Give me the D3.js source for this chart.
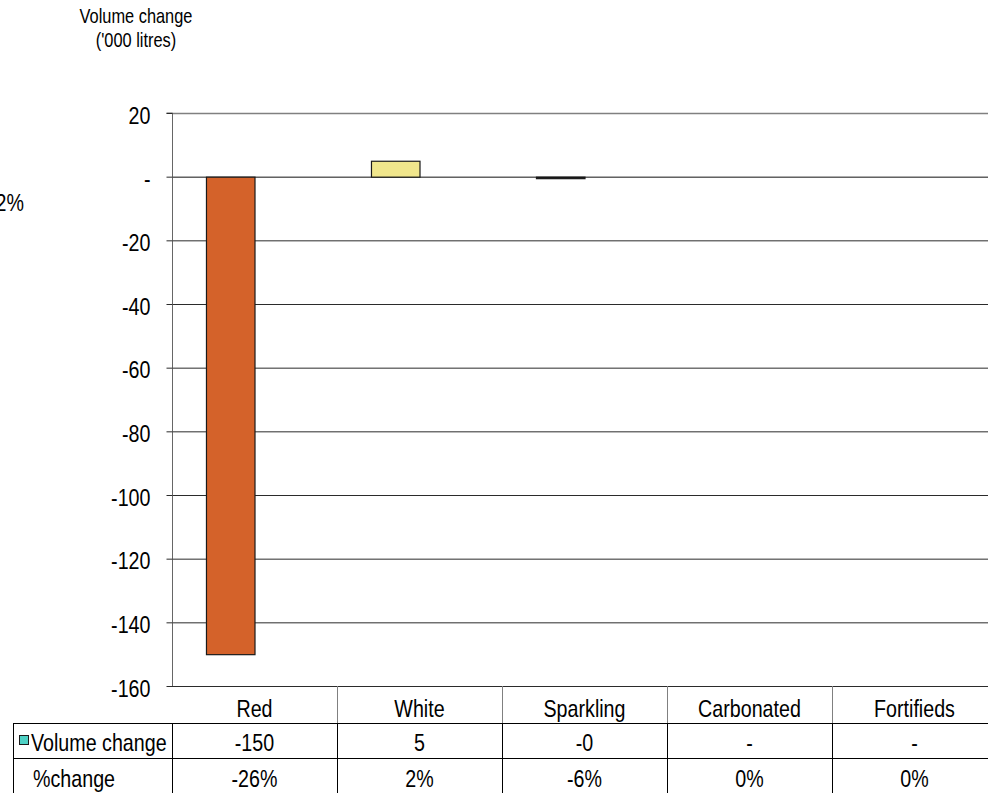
<!DOCTYPE html>
<html><head><meta charset="utf-8">
<script src="https://cdn.jsdelivr.net/npm/d3@7"></script>
<style>body{margin:0;background:#fff;}svg{display:block;font-family:"Liberation Sans",Arial,sans-serif;}</style>
</head><body>
<script>
const categories = ["Red","White","Sparkling","Carbonated","Fortifieds"];
const volumeChange = [-150, 5, -0.4, 0, 0];
const volumeLabels = ["-150","5","-0","-","-"];
const pctLabels = ["-26%","2%","-6%","0%","0%"];
const barColors = ["#D4622A","#F0E68C","#000000","#4FD1C5","#4FD1C5"];
const yTicks = [20,0,-20,-40,-60,-80,-100,-120,-140,-160];
const seriesNames = ["Volume change","%change"];

const W = 988, H = 793;
const NX = 0.82; // narrow scale
const svg = d3.select("body").append("svg").attr("width", W).attr("height", H);

function ntext(g, x, yy, str, size, anchor) {
  return g.append("text")
    .attr("transform", `translate(${x},${yy}) scale(${NX},1)`)
    .attr("text-anchor", anchor || "start")
    .attr("font-size", size).attr("fill", "#000").text(str);
}

const pLeft = 172, pRight = 997, pTop = 113, pBottom = 686;
const y = d3.scaleLinear().domain([-160, 20]).range([pBottom, pTop]);
const x = d3.scaleBand().domain(categories).range([pLeft, pRight]).paddingInner(0).paddingOuter(0);
const xs = d3.scaleBand().domain(seriesNames).range([0, x.bandwidth()]).paddingInner(0).paddingOuter(0.7);

// title
ntext(svg, 136, 23, "Volume change", 20, "middle");
ntext(svg, 136, 47, "('000 litres)", 20, "middle");
ntext(svg, 24, 211, "2%", 24, "end");

// gridlines
svg.append("g").selectAll("line").data(yTicks).join("line")
  .attr("x1", pLeft).attr("x2", pRight)
  .attr("y1", d=>y(d)+0.5).attr("y2", d=>y(d)+0.5)
  .attr("stroke", d=> d===20 ? "#808080" : (d===0 ? "#111" : "#2b2b2b")).attr("stroke-width", d=> d===20?1.5:1);

// y axis
const yAxis = d3.axisLeft(y).tickValues(yTicks).tickSize(6).tickPadding(4)
  .tickFormat(d => d===0 ? "-" : String(d));
const ga = svg.append("g").attr("transform", `translate(${pLeft+0.5},0)`).call(yAxis);
ga.select(".domain").attr("stroke","#666").attr("d", `M-6,${pTop}H0V${pBottom}`);
ga.selectAll(".tick line").attr("stroke","#2b2b2b");
ga.selectAll(".tick text")
  .attr("font-size",24).attr("fill","#000").attr("font-family","Liberation Sans, Arial, sans-serif")
  .attr("x", -22/NX).attr("dy","0.42em")
  .attr("transform", `scale(${NX},1)`);

// bars
svg.append("g").selectAll("rect").data(categories.map((c,i)=>({c, v: volumeChange[i], col: barColors[i]})).filter(d=>d.v!==0)).join("rect")
  .attr("x", d => x(d.c) + xs("Volume change") + 0.5)
  .attr("width", xs.bandwidth())
  .attr("y", d => y(Math.max(0,d.v)) + 0.5)
  .attr("height", d => Math.max(1.5, Math.abs(y(d.v)-y(0))))
  .attr("fill", d=>d.col).attr("stroke","#1a1a1a").attr("stroke-width",1.2);

// data table
const r0 = pBottom, r1 = 723, r2 = 758, r3 = 800;
const tbl = svg.append("g");
tbl.append("line").attr("x1",13).attr("x2",pRight).attr("y1",r1+0.5).attr("y2",r1+0.5).attr("stroke","#000");
tbl.append("line").attr("x1",13).attr("x2",pRight).attr("y1",r2+0.5).attr("y2",r2+0.5).attr("stroke","#000");
tbl.append("line").attr("x1",13.5).attr("x2",13.5).attr("y1",r1).attr("y2",r3).attr("stroke","#000");
tbl.append("line").attr("x1",pLeft+0.5).attr("x2",pLeft+0.5).attr("y1",r1).attr("y2",r3).attr("stroke","#000");
const divs = categories.slice(1).map(c => x(c));
tbl.selectAll("line.vg").data(divs).join("line").attr("class","vg")
  .attr("x1",d=>Math.round(d)+0.5).attr("x2",d=>Math.round(d)+0.5).attr("y1",r0).attr("y2",r1).attr("stroke","#808080");
tbl.selectAll("line.vb").data(divs).join("line").attr("class","vb")
  .attr("x1",d=>Math.round(d)+0.5).attr("x2",d=>Math.round(d)+0.5).attr("y1",r1).attr("y2",r3).attr("stroke","#000");
categories.forEach((c,i) => {
  const cx = x(c) + x.bandwidth()/2;
  ntext(tbl, cx, 717, c, 24, "middle");
  ntext(tbl, cx, 751, volumeLabels[i], 24, "middle");
  ntext(tbl, cx, 787, pctLabels[i], 24, "middle");
});
tbl.append("rect").attr("x",19.5).attr("y",735.5).attr("width",9).attr("height",9).attr("fill","#4FD1C5").attr("stroke","#1a1a1a");
ntext(tbl, 31, 751, seriesNames[0], 24, "start");
ntext(tbl, 33, 787, seriesNames[1], 24, "start");
</script>
</body></html>
